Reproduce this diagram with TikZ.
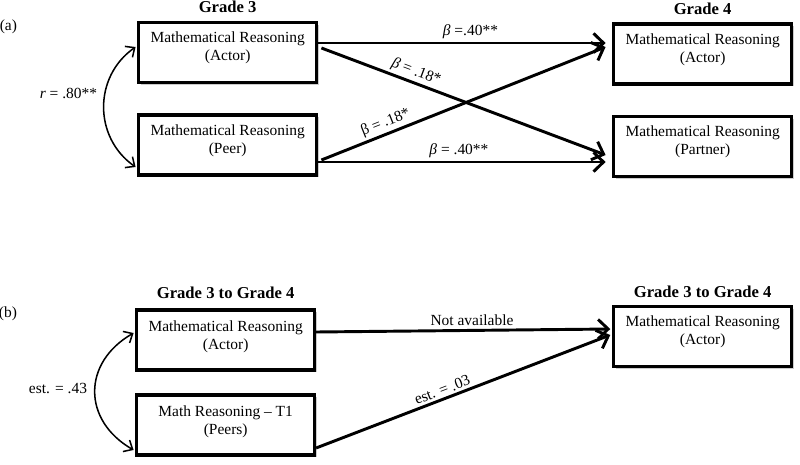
\documentclass[tikz,border=0pt]{standalone}
\usepackage{fontspec}
\setmainfont{Liberation Serif}
\usepackage{tikz}
\usetikzlibrary{arrows.meta, positioning, shadows, calc}
\tikzset{
  element_box/.style={draw=black, fill=white, line width=2.7pt, minimum width=5.33cm, minimum height=1.8cm, drop shadow={shadow xshift=0.07cm, shadow yshift=-0.07cm, fill=black!40}},
  element_text/.style={align=center, font=\fontsize{13.2}{15.3}\selectfont},
  group_title/.style={font=\fontsize{14.2}{16}\selectfont\bfseries},
  panel_label/.style={font=\fontsize{13.2}{15}\selectfont},
  coef_label/.style={font=\fontsize{13.2}{15}\selectfont, inner sep=2pt},
  dep_path/.style={line width=2.5pt, -{Straight Barb[length=0.3cm, width=0.58cm]}},
  corr_path/.style={line width=1.3pt, {Straight Barb[length=0.22cm, width=0.4cm]}-{Straight Barb[length=0.22cm, width=0.4cm]}}
}
\begin{document}
\begin{tikzpicture}[x=1cm, y=1cm]
\useasboundingbox (0,0) rectangle (24,-13.92);
\node[panel_label] (panel_a) at (0.25,-0.81) {(a)};
\node[element_box] (g3_actor) at (6.83,-1.575) {};
\node[element_box] (g3_peer) at (6.83,-4.35) {};
\node[element_box] (g4_actor) at (21.08,-1.62) {};
\node[element_box] (g4_partner) at (21.08,-4.395) {};
\node[group_title, above=0.11cm of g3_actor] (g3_title) {Grade 3};
\node[group_title, above=0.11cm of g4_actor] (g4_title) {Grade 4};
\node[element_text, below=0.21cm of g3_actor.north] (g3_actor_text) {Mathematical Reasoning\\(Actor)};
\node[element_text, below=0.21cm of g3_peer.north] (g3_peer_text) {Mathematical Reasoning\\(Peer)};
\node[element_text, below=0.21cm of g4_actor.north] (g4_actor_text) {Mathematical Reasoning\\(Actor)};
\node[element_text, below=0.21cm of g4_partner.north] (g4_partner_text) {Mathematical Reasoning\\(Partner)};
\draw[dep_path] ([yshift=0.285cm]g3_actor.east) -- node[coef_label, above, pos=0.53] {\textit{β} =.40**} ([xshift=-0.2cm, yshift=0.33cm]g4_actor.west);
\draw[dep_path] ([xshift=0.1cm, yshift=0.135cm]g3_actor.east) -- node[coef_label, sloped, above, pos=0.32] {\textit{β} = .18*} ([xshift=-0.2cm, yshift=-0.255cm]g4_partner.west);
\draw[dep_path] ([xshift=0.1cm, yshift=-0.45cm]g3_peer.east) -- node[coef_label, sloped, above, pos=0.24] {β = .18*} ([xshift=-0.2cm, yshift=0.21cm]g4_actor.west);
\draw[dep_path] ([yshift=-0.51cm]g3_peer.east) -- node[coef_label, above, pos=0.49] {\textit{β} = .40**} ([xshift=-0.2cm, yshift=-0.465cm]g4_partner.west);
\draw[corr_path] ([xshift=-0.05cm, yshift=0.165cm]g3_actor.west) to[bend right=55, looseness=1.1] node[coef_label, left=0.15cm, pos=0.4] {\textit{r} = .80**} ([xshift=-0.05cm, yshift=-0.66cm]g3_peer.west);
\node[panel_label] (panel_b) at (0.24,-9.42) {(b)};
\node[element_box] (b_actor) at (6.77,-10.2) {};
\node[element_box] (b_peers) at (6.77,-12.75) {};
\node[element_box] (b_target) at (21.08,-10.095) {};
\node[group_title, above=0.17cm of b_actor] (b_left_title) {Grade 3 to Grade 4};
\node[group_title, above=0.1cm of b_target] (b_right_title) {Grade 3 to Grade 4};
\node[element_text, below=0.25cm of b_actor.north] (b_actor_text) {Mathematical Reasoning\\(Actor)};
\node[element_text, below=0.25cm of b_peers.north] (b_peers_text) {Math Reasoning – T1\\(Peers)};
\node[element_text, below=0.21cm of b_target.north] (b_target_text) {Mathematical Reasoning\\(Actor)};
\draw[dep_path] ([yshift=0.24cm]b_actor.east) -- node[coef_label, above=1pt, pos=0.53] {Not available} ([xshift=-0.06cm, yshift=0.225cm]b_target.west);
\draw[dep_path] ([yshift=-0.69cm]b_peers.east) -- node[coef_label, sloped, above, pos=0.44] {est. = .03} ([xshift=-0.06cm, yshift=0.045cm]b_target.west);
\draw[corr_path] ([xshift=-0.05cm, yshift=0.21cm]b_actor.west) to[bend right=60, looseness=1.3] node[coef_label, left=0.15cm, pos=0.48] {est. = .43} ([xshift=-0.05cm, yshift=-0.75cm]b_peers.west);
\end{tikzpicture}
\end{document}
